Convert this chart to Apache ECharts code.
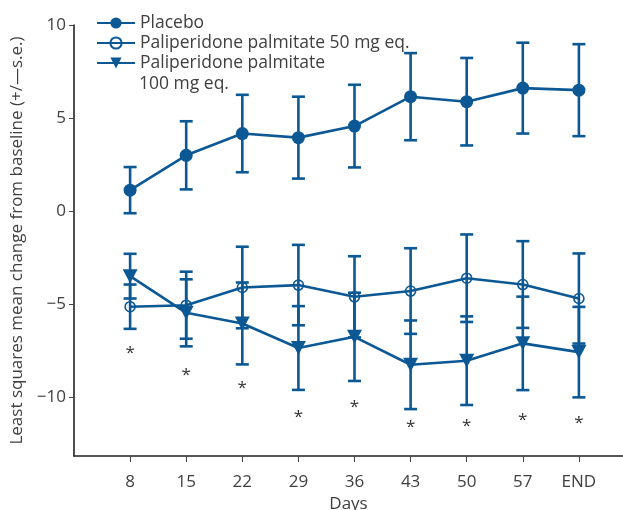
<!DOCTYPE html>
<html>
<head>
<meta charset="utf-8">
<script src="https://cdn.jsdelivr.net/npm/echarts@6/dist/echarts.min.js"></script>
<style>
  html, body { margin: 0; padding: 0; background: #fff; }
  #chart { width: 623px; height: 510px; }
</style>
</head>
<body>
<div id="chart"></div>
<script>
var days = ['8', '15', '22', '29', '36', '43', '50', '57', 'END'];

var placeboMean = [1.13, 3.0, 4.17, 3.95, 4.57, 6.15, 5.88, 6.61, 6.5];
var placeboSE = [1.24, 1.83, 2.08, 2.2, 2.22, 2.34, 2.35, 2.44, 2.47];

var pp50Mean = [-5.13, -5.05, -4.1, -3.97, -4.6, -4.29, -3.6, -3.94, -4.69];
var pp50SE = [1.19, 1.8, 2.19, 2.16, 2.18, 2.3, 2.35, 2.33, 2.42];

var pp100Mean = [-3.49, -5.46, -6.03, -7.35, -6.75, -8.25, -8.03, -7.1, -7.57];
var pp100SE = [1.2, 1.8, 2.2, 2.25, 2.37, 2.38, 2.38, 2.51, 2.43];

// asterisk positions (significance marks)
var starValues = [-7.42, -8.57, -9.29, -10.83, -10.29, -11.4, -11.31, -10.99, -11.16];

var yTicks = [-10, -5, 0, 5, 10];

var blue = '#0b5894';
var textColor = '#404040';
var font = 'Open Sans';

// x positions: day index 1..9, axis runs from 0
var xTicks = days.map(function (d, i) { return i + 1; });

var toPoints = function (means) {
    return means.map(function (v, i) { return [i + 1, v]; });
};
var toBars = function (means, ses) {
    return means.map(function (v, i) { return [i + 1, v - ses[i], v + ses[i]]; });
};

var renderErrorBar = function (params, api) {
    var x = api.value(0);
    var lo = api.coord([x, api.value(1)]);
    var hi = api.coord([x, api.value(2)]);
    var w = 6.5;
    var st = { stroke: blue, lineWidth: 2.6 };
    return {
        type: 'group',
        children: [
            { type: 'line', shape: { x1: hi[0], y1: hi[1], x2: lo[0], y2: lo[1] }, style: st },
            { type: 'line', shape: { x1: hi[0] - w, y1: hi[1], x2: hi[0] + w, y2: hi[1] }, style: st },
            { type: 'line', shape: { x1: lo[0] - w, y1: lo[1], x2: lo[0] + w, y2: lo[1] }, style: st }
        ]
    };
};

var errorSeries = function (means, ses) {
    return {
        type: 'custom',
        silent: true,
        z: 1,
        renderItem: renderErrorBar,
        encode: { x: 0, y: [1, 2] },
        data: toBars(means, ses)
    };
};

var myChart = echarts.init(document.getElementById('chart'), null, { renderer: 'canvas' });

var option = {
    backgroundColor: '#fff',
    animation: false,
    textStyle: { fontFamily: font },
    grid: { left: 74, right: 0, top: 25, bottom: 54, containLabel: false, outerBoundsMode: 'none' },
    legend: {
        orient: 'vertical',
        left: 91,
        top: 8,
        itemWidth: 38,
        itemHeight: 14,
        itemGap: 0,
        textStyle: { fontSize: 17.5, lineHeight: 20, color: textColor, fontFamily: font },
        formatter: function (name) {
            return name.indexOf('100') >= 0 ? 'Paliperidone palmitate' : name;
        },
        data: ['Placebo', 'Paliperidone palmitate 50 mg eq.', 'Paliperidone palmitate 100 mg eq.']
    },
    graphic: [{
        type: 'text',
        left: 139,
        top: 74,
        style: { text: '100 mg eq.', fontSize: 17.5, lineHeight: 21, fill: textColor, fontFamily: font }
    }],
    xAxis: {
        type: 'value',
        min: 0,
        max: 9.786,
        name: 'Days',
        nameLocation: 'middle',
        nameGap: 40,
        nameTextStyle: { fontSize: 17, color: textColor },
        axisLine: { onZero: false, lineStyle: { color: '#222', width: 1.6 } },
        axisTick: { show: true, length: 6, customValues: xTicks, lineStyle: { color: '#444', width: 1 } },
        axisLabel: {
            fontSize: 17,
            color: textColor,
            margin: 18,
            customValues: xTicks,
            formatter: function (v) { return days[Math.round(v) - 1] || ''; }
        },
        splitLine: { show: false }
    },
    yAxis: {
        type: 'value',
        min: -13.15,
        max: 10,
        name: 'Least squares mean change from baseline (+/\u2014s.e.)',
        nameLocation: 'middle',
        nameGap: 47,
        nameTextStyle: { fontSize: 17, color: textColor },
        axisLine: { show: true, onZero: false, lineStyle: { color: '#222', width: 1.6 } },
        axisTick: { show: true, length: 5, customValues: yTicks, lineStyle: { color: '#444', width: 1 } },
        axisLabel: {
            fontSize: 17,
            color: textColor,
            margin: 8,
            customValues: yTicks,
            formatter: function (v) { return v < 0 ? '\u2212' + Math.abs(v) : String(v); }
        },
        splitLine: { show: false }
    },
    series: [
        errorSeries(placeboMean, placeboSE),
        errorSeries(pp50Mean, pp50SE),
        errorSeries(pp100Mean, pp100SE),
        {
            name: 'Placebo',
            type: 'line',
            z: 3,
            symbol: 'circle',
            symbolSize: 13,
            lineStyle: { color: blue, width: 2.6 },
            itemStyle: { color: blue },
            data: toPoints(placeboMean)
        },
        {
            name: 'Paliperidone palmitate 50 mg eq.',
            type: 'line',
            z: 3,
            symbol: 'circle',
            symbolSize: 10,
            lineStyle: { color: blue, width: 2.6 },
            itemStyle: { color: 'rgba(255,255,255,0)', borderColor: blue, borderWidth: 1.6 },
            data: toPoints(pp50Mean)
        },
        {
            name: 'Paliperidone palmitate 100 mg eq.',
            type: 'line',
            z: 3,
            symbol: 'triangle',
            symbolRotate: 180,
            symbolSize: [15, 14],
            lineStyle: { color: blue, width: 2.6 },
            itemStyle: { color: blue },
            data: toPoints(pp100Mean)
        },
        {
            type: 'custom',
            silent: true,
            z: 2,
            renderItem: function (params, api) {
                var p = api.coord([api.value(0), api.value(1)]);
                return {
                    type: 'text',
                    x: p[0],
                    y: p[1] + 4,
                    style: { text: '*', fontSize: 17, fill: '#333', align: 'center', verticalAlign: 'middle', fontFamily: font }
                };
            },
            encode: { x: 0, y: 1 },
            data: toPoints(starValues)
        }
    ]
};

myChart.setOption(option);
</script>
</body>
</html>
